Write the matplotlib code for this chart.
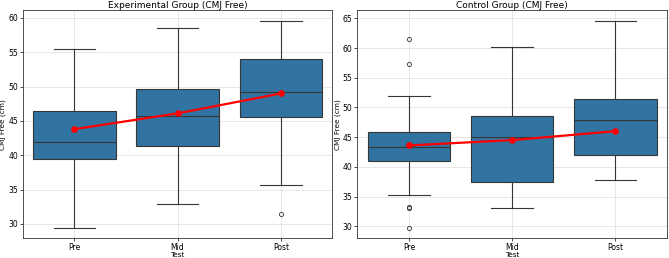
import matplotlib.pyplot as plt
import numpy as np

tests = ["Pre", "Mid", "Post"]

# Experimental group box stats
exp_whislo = [29.4, 32.9, 35.7]
exp_q1 = [39.4, 41.3, 45.6]
exp_med = [42.0, 45.7, 49.2]
exp_q3 = [46.4, 49.7, 54.0]
exp_whishi = [55.5, 58.5, 59.6]
exp_fliers = [[], [], [31.4]]
exp_mean = [43.8, 46.1, 49.0]

# Control group box stats
ctl_whislo = [35.2, 33.0, 37.7]
ctl_q1 = [40.9, 37.5, 42.0]
ctl_med = [43.4, 45.1, 47.9]
ctl_q3 = [45.8, 48.6, 51.5]
ctl_whishi = [51.9, 60.1, 64.6]
ctl_fliers = [[61.5, 57.3, 33.3, 33.0, 29.7], [], []]
ctl_mean = [43.6, 44.5, 46.0]

box_color = "#3274a1"
edge_color = "#363636"

fig, axes = plt.subplots(1, 2, figsize=(6.69, 2.58), dpi=100)
plt.subplots_adjust(left=0.034, right=0.997, top=0.96, bottom=0.076, wspace=0.08)

groups = [
    ("Experimental Group (CMJ Free)", exp_whislo, exp_q1, exp_med, exp_q3, exp_whishi, exp_fliers, exp_mean),
    ("Control Group (CMJ Free)", ctl_whislo, ctl_q1, ctl_med, ctl_q3, ctl_whishi, ctl_fliers, ctl_mean),
]

for ax, (title, wlo, q1, med, q3, whi, fl, mean) in zip(axes, groups):
    stats = []
    for i in range(len(tests)):
        stats.append({"whislo": wlo[i], "q1": q1[i], "med": med[i], "q3": q3[i],
                      "whishi": whi[i], "fliers": fl[i], "label": tests[i]})
    x = np.arange(len(tests))
    ax.bxp(stats, positions=x, widths=0.8, patch_artist=True, showfliers=True,
           boxprops=dict(facecolor=box_color, edgecolor=edge_color, linewidth=0.8),
           medianprops=dict(color=edge_color, linewidth=0.8),
           whiskerprops=dict(color=edge_color, linewidth=0.8),
           capprops=dict(color=edge_color, linewidth=0.8),
           flierprops=dict(marker="o", markerfacecolor="none", markeredgecolor=edge_color,
                           markersize=3, markeredgewidth=0.6))
    ax.plot(x, mean, "o-", color="red", linewidth=1.6, markersize=3.8, zorder=5)
    ax.set_xlim(-0.5, 2.5)
    ax.set_xticks(x)
    ax.set_xticklabels(tests)
    ax.set_title(title, fontsize=6.5, pad=2)
    ax.set_xlabel("Test", fontsize=5.3, labelpad=0)
    ax.set_ylabel("CMJ Free (cm)", fontsize=5.3, labelpad=1.5)
    ax.tick_params(labelsize=5.5, length=2, width=0.5, pad=1.5)
    ax.grid(True, color="#dddddd", linewidth=0.5)
    ax.set_axisbelow(True)
    for s in ax.spines.values():
        s.set_linewidth(0.6)
        s.set_color("#333333")

plt.savefig("out.png", dpi=100)
